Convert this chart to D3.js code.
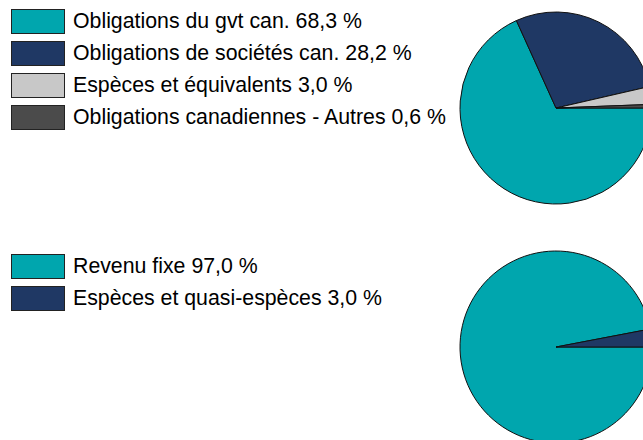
<!DOCTYPE html>
<html>
<head>
<meta charset="utf-8">
<script src="https://cdn.jsdelivr.net/npm/d3@7"></script>
<style>
body { margin: 0; background: #fff; }
svg { display: block; font-family: Arial, "Liberation Sans", sans-serif; }
</style>
</head>
<body>
<svg id="chart" width="643" height="440"></svg>
<script>
// top chart: bond breakdown
var bondLabels = ["Obligations du gvt can. 68,3 %", "Obligations de sociétés can. 28,2 %", "Espèces et équivalents 3,0 %", "Obligations canadiennes - Autres 0,6 %"];
var bondValues = [68.3, 28.2, 3.0, 0.6];
var bondColors = ["#00A6AE", "#1F3864", "#C8C8C8", "#4B4B4B"];

// bottom chart: asset mix
var mixLabels = ["Revenu fixe 97,0 %", "Espèces et quasi-espèces 3,0 %"];
var mixValues = [97.0, 3.0];
var mixColors = ["#00A6AE", "#1F3864"];

var svg = d3.select("#chart");

function drawBlock(labels, values, colors, top, cy){
	var legend = svg.append("g");
	var rowStep = 32;
	labels.forEach(function(lab, i){
		var y = top + i * rowStep;
		legend.append("rect")
			.attr("x", 11.5).attr("y", y + 0.5)
			.attr("width", 53).attr("height", 24)
			.attr("fill", colors[i])
			.attr("stroke", "#222").attr("stroke-width", 1);
		legend.append("text")
			.attr("x", 73).attr("y", y + 13)
			.attr("dominant-baseline", "middle")
			.attr("font-size", 21.3)
			.attr("fill", "#000")
			.text(lab);
	});

	var pie = d3.pie().sort(null)
		.startAngle(Math.PI / 2)
		.endAngle(Math.PI / 2 + 2 * Math.PI);
	var arc = d3.arc().innerRadius(0).outerRadius(96);
	var g = svg.append("g").attr("transform", "translate(556," + cy + ")");
	g.selectAll("path")
		.data(pie(values))
		.enter().append("path")
		.attr("d", arc)
		.attr("fill", function(d, i){ return colors[i]; })
		.attr("stroke", "#111")
		.attr("stroke-width", 1)
		.attr("stroke-linejoin", "round");
}

drawBlock(bondLabels, bondValues, bondColors, 9, 108);
drawBlock(mixLabels, mixValues, mixColors, 254, 347);
</script>
</body>
</html>
